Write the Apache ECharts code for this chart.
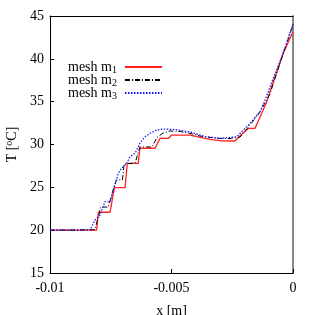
<!DOCTYPE html>
<html>
<head>
<meta charset="utf-8">
<script src="https://cdn.jsdelivr.net/npm/echarts@6/dist/echarts.min.js"></script>
<style>html,body{margin:0;padding:0;background:#fff}#c{width:314px;height:315px}</style>
</head>
<body>
<div id="c"></div>
<script>
const seriesNames = ['mesh m1', 'mesh m2', 'mesh m3'];
const xTickLabels = ['-0.01', '-0.005', '0'];
const yTickLabels = ['15', '20', '25', '30', '35', '40', '45'];

const m1X = [-0.01, -0.00808, -0.00801, -0.00753, -0.00735, -0.00691, -0.00682, -0.00637, -0.0063, -0.00568, -0.00547, -0.00513, -0.00499, -0.00424, -0.00396, -0.00342, -0.0030, -0.00239, -0.00211, -0.00182, -0.00156, -0.00108, -0.00081, -0.0004, 0];
const m1T = [20, 20.02, 22.09, 22.09, 24.96, 24.96, 27.8, 27.8, 29.56, 29.56, 30.72, 30.72, 31.1, 31.1, 30.91, 30.6, 30.44, 30.41, 31.19, 31.89, 31.89, 35.0, 37.33, 40.65, 43.17];

const m2X = [-0.01, -0.00815, -0.00791, -0.0076, -0.00737, -0.00726, -0.00702, -0.00695, -0.0065, -0.0063, -0.0058, -0.0056, -0.00535, -0.00506, -0.00465, -0.00424, -0.00383, -0.00342, -0.0030, -0.00259, -0.00218, -0.00177, -0.00136, -0.00095, -0.00045, 0];
const m2T = [20, 20.05, 22.7, 22.7, 25.04, 25.86, 25.86, 27.72, 27.84, 29.71, 29.71, 30.82, 31.34, 31.58, 31.52, 31.3, 30.99, 30.82, 30.7, 30.7, 30.87, 32.28, 33.79, 35.9, 40.2, 43.95];

const m3X = [-0.01, -0.00835, -0.00815, -0.00794, -0.00774, -0.00753, -0.00733, -0.00719, -0.00705, -0.00684, -0.00671, -0.0065, -0.0063, -0.00609, -0.00588, -0.00561, -0.00534, -0.00486, -0.00424, -0.00362, -0.0030, -0.00232, -0.00177, -0.00136, -0.00115, -0.00081, -0.00046, 0];
const m3T = [20, 20.02, 21.19, 21.77, 23.32, 23.32, 25.27, 26.64, 27.22, 27.8, 28.58, 28.97, 30.14, 30.91, 31.31, 31.69, 31.81, 31.75, 31.46, 30.93, 30.72, 30.91, 32.47, 33.83, 35.19, 37.73, 40.25, 44.07];

const pair = (xs, ts) => xs.map((x, i) => [x, ts[i]]);
const FONT = 'Liberation Serif';
const FS = 14;

const chart = echarts.init(document.getElementById('c'), null, {renderer: 'canvas'});
const baseLine = {type: 'line', symbol: 'none', showSymbol: false, animation: false, xAxisIndex: 0, yAxisIndex: 0};
chart.setOption({
  animation: false,
  grid: {left: 50, right: 21, top: 16, bottom: 42, containLabel: false, outerBoundsMode: 'none'},
  legend: {
    data: seriesNames,
    orient: 'vertical',
    align: 'right',
    left: 63,
    top: 55,
    itemWidth: 37,
    itemHeight: 10,
    itemGap: -2,
    itemStyle: {opacity: 0, borderWidth: 0},
    formatter: n => 'mesh m{sub|' + n.slice(-1) + '}',
    textStyle: {
      fontFamily: FONT, fontSize: FS, color: '#000', lineHeight: 14,
      rich: {sub: {fontFamily: FONT, fontSize: 10, padding: [6, 3, 0, 0], color: '#000'}}
    }
  },
  xAxis: [{
    type: 'value', min: -0.01, max: 0, interval: 0.005, position: 'bottom',
    name: 'x [m]', nameLocation: 'middle', nameGap: 31,
    nameTextStyle: {fontFamily: FONT, fontSize: FS, color: '#000'},
    axisLine: {show: true, onZero: false, lineStyle: {color: '#000', width: 1}},
    axisTick: {show: true, inside: true, length: 4, lineStyle: {color: '#000'}},
    axisLabel: {fontFamily: FONT, fontSize: FS, color: '#000', margin: 8,
      formatter: (v, i) => xTickLabels[i]},
    splitLine: {show: false}
  }, {
    type: 'value', min: -0.01, max: 0, position: 'top',
    axisLine: {show: true, onZero: false, lineStyle: {color: '#000', width: 1}},
    axisTick: {show: false}, axisLabel: {show: false}, splitLine: {show: false}
  }],
  yAxis: [{
    type: 'value', min: 15, max: 45, interval: 5, position: 'left',
    name: 'T [{sup|o}C]', nameLocation: 'middle', nameGap: 25, nameRotate: 90,
    nameTextStyle: {fontFamily: FONT, fontSize: FS, color: '#000',
      rich: {sup: {fontFamily: FONT, fontSize: 10, padding: [0, 0, 6, 0], color: '#000'}}},
    axisLine: {show: true, onZero: false, lineStyle: {color: '#000', width: 1}},
    axisTick: {show: true, inside: true, length: 4, lineStyle: {color: '#000'}},
    axisLabel: {fontFamily: FONT, fontSize: FS, color: '#000', margin: 6,
      formatter: (v, i) => yTickLabels[i]},
    splitLine: {show: false}
  }, {
    type: 'value', min: 15, max: 45, position: 'right',
    axisLine: {show: true, onZero: false, lineStyle: {color: '#888', width: 2}},
    axisTick: {show: false}, axisLabel: {show: false}, splitLine: {show: false}
  }],
  series: [
    Object.assign({}, baseLine, {name: seriesNames[0], data: pair(m1X, m1T), z: 3,
      lineStyle: {color: '#ff2020', width: 1.3, type: 'solid'}, itemStyle: {color: '#ff2020'}}),
    Object.assign({}, baseLine, {name: seriesNames[1], data: pair(m2X, m2T), z: 4,
      lineStyle: {color: '#000', width: 1, type: [5, 2, 1, 2]}, itemStyle: {color: '#000'}}),
    Object.assign({}, baseLine, {name: seriesNames[2], data: pair(m3X, m3T), z: 5,
      lineStyle: {color: '#1010ff', width: 1.2, type: [1.5, 1.5]}, itemStyle: {color: '#1010ff'}})
  ]
});
</script>
</body>
</html>
